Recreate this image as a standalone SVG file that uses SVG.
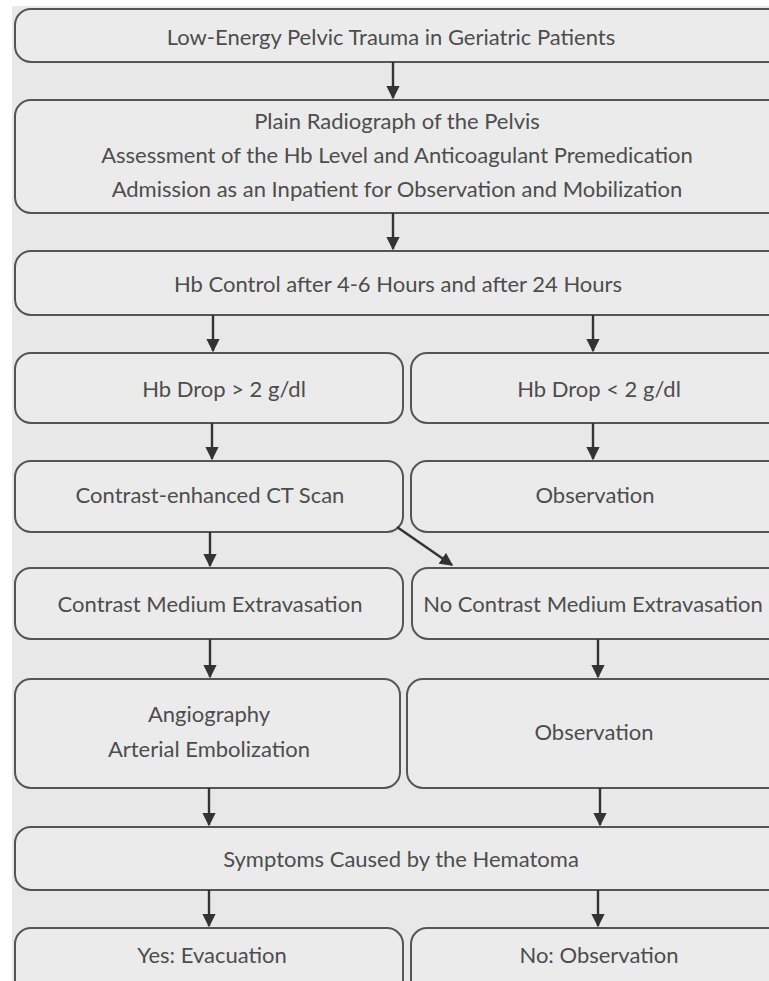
<svg xmlns="http://www.w3.org/2000/svg" width="769" height="981" viewBox="0 0 769 981">
<defs>
<marker id="ah" viewBox="0 0 10 10" refX="9" refY="5" markerWidth="5.5" markerHeight="5.5" orient="auto" markerUnits="strokeWidth">
<path d="M0,0 L10,5 L0,10 z" fill="#333"/>
</marker>
<style>
.bx{fill:#ebebeb;stroke:#555;stroke-width:2}
.t{font-family:Lato,"Liberation Sans",sans-serif;font-size:22px;fill:#4d4d4d;text-anchor:middle}
.c{stroke:#333;stroke-width:2.4;fill:none;marker-end:url(#ah)}
</style>
</defs>
<rect x="0" y="0" width="769" height="981" fill="#ffffff"/>
<rect x="12" y="6" width="757" height="975" fill="#e8e8e8"/>
<g id="n1"><rect class="bx" x="15" y="9" width="790" height="53" rx="16"/><text class="t" x="391" y="45">Low-Energy Pelvic Trauma in Geriatric Patients</text></g>
<g id="n2"><rect class="bx" x="15" y="100" width="790" height="113" rx="16"/><text class="t" x="397" y="129">Plain Radiograph of the Pelvis</text><text class="t" x="397" y="163">Assessment of the Hb Level and Anticoagulant Premedication</text><text class="t" x="397" y="197">Admission as an Inpatient for Observation and Mobilization</text></g>
<g id="n3"><rect class="bx" x="15" y="251" width="790" height="64" rx="16"/><text class="t" x="398" y="292">Hb Control after 4-6 Hours and after 24 Hours</text></g>
<g id="n4a"><rect class="bx" x="15" y="353" width="388" height="70" rx="16"/><text class="t" x="224" y="397">Hb Drop &gt; 2 g/dl</text></g>
<g id="n4b"><rect class="bx" x="411" y="353" width="400" height="70" rx="16"/><text class="t" x="599" y="397">Hb Drop &lt; 2 g/dl</text></g>
<g id="n5a"><rect class="bx" x="15" y="461" width="388" height="71" rx="16"/><text class="t" x="210" y="503">Contrast-enhanced CT Scan</text></g>
<g id="n5b"><rect class="bx" x="411" y="461" width="400" height="71" rx="16"/><text class="t" x="595" y="503">Observation</text></g>
<g id="n6a"><rect class="bx" x="15" y="568" width="388" height="71" rx="16"/><text class="t" x="210" y="612">Contrast Medium Extravasation</text></g>
<g id="n6b"><rect class="bx" x="412" y="568" width="400" height="71" rx="16"/><text class="t" x="593" y="612">No Contrast Medium Extravasation</text></g>
<g id="n7a"><rect class="bx" x="15" y="679" width="385" height="109" rx="16"/><text class="t" x="209" y="722">Angiography</text><text class="t" x="209" y="757">Arterial Embolization</text></g>
<g id="n7b"><rect class="bx" x="407" y="679" width="400" height="109" rx="16"/><text class="t" x="594" y="740">Observation</text></g>
<g id="n8"><rect class="bx" x="15" y="827" width="790" height="63" rx="16"/><text class="t" x="401" y="867">Symptoms Caused by the Hematoma</text></g>
<g id="n9a"><rect class="bx" x="15" y="928" width="388" height="80" rx="16"/><text class="t" x="212" y="963">Yes: Evacuation</text></g>
<g id="n9b"><rect class="bx" x="411" y="928" width="400" height="80" rx="16"/><text class="t" x="599" y="963">No: Observation</text></g>
<g id="connectors">
<line class="c" x1="393" y1="62" x2="393" y2="98"/>
<line class="c" x1="393" y1="213" x2="393" y2="249"/>
<line class="c" x1="213" y1="315" x2="213" y2="351"/>
<line class="c" x1="593" y1="315" x2="593" y2="351"/>
<line class="c" x1="212" y1="423" x2="212" y2="459"/>
<line class="c" x1="593" y1="423" x2="593" y2="459"/>
<line class="c" x1="210" y1="532" x2="210" y2="566"/>
<line class="c" x1="397" y1="527" x2="452" y2="565"/>
<line class="c" x1="210" y1="639" x2="210" y2="677"/>
<line class="c" x1="598" y1="639" x2="598" y2="677"/>
<line class="c" x1="209" y1="788" x2="209" y2="825"/>
<line class="c" x1="600" y1="788" x2="600" y2="825"/>
<line class="c" x1="209" y1="890" x2="209" y2="926"/>
<line class="c" x1="598" y1="890" x2="598" y2="926"/>
</g>
</svg>
